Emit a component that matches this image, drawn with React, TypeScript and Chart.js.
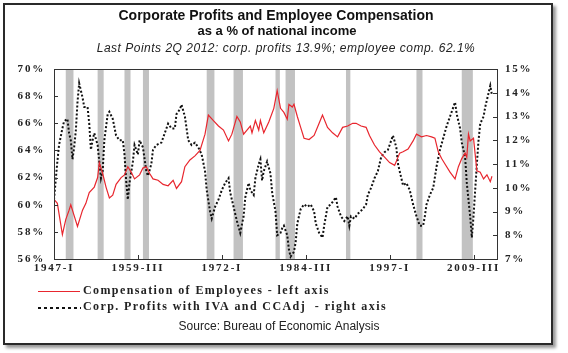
import React, { useEffect, useRef } from 'react';
import { Chart, registerables } from 'chart.js';

Chart.register(...registerables);

// Quarter index 0 = 1947-I
const tickQuarters = [0, 50, 100, 150, 200, 250];
const tickLabels = ['1947-I', '1959-III', '1972-I', '1984-III', '1997-I', '2009-III'];

const compQuarter = [
  0, 2, 5, 7, 9, 10, 12, 14, 17, 19,
  21, 24, 26, 27, 29, 31, 33, 35, 37, 40,
  42, 44, 46, 48, 51, 53, 55, 57, 59, 62,
  65, 68, 71, 73, 76, 78, 81, 84, 87, 90,
  92, 95, 98, 101, 104, 106, 109, 111, 113, 115,
  117, 118, 120, 122, 123, 125, 128, 131, 133, 135,
  137, 139, 140, 142, 143, 145, 147, 149, 152, 155,
  158, 160, 163, 166, 169, 172, 175, 178, 180, 183,
  186, 188, 191, 194, 197, 200, 203, 206, 208, 211,
  214, 216, 219, 222, 225, 227, 229, 231, 233, 236,
  239, 241, 243, 245, 246, 247, 248, 250, 252, 254,
  256, 258, 260, 261,
];
const compValue = [
  60.4, 60.1, 57.8, 58.9, 59.6, 60.0, 59.2, 58.4, 59.6, 60.1,
  60.9, 61.3, 62.0, 63.1, 62.3, 61.3, 60.5, 60.7, 61.5, 62.0,
  62.2, 62.8, 62.4, 61.9, 62.2, 62.7, 62.8, 62.3, 61.9, 61.8,
  61.5, 61.4, 61.8, 61.2, 61.7, 62.8, 63.3, 63.6, 64.0, 65.2,
  66.6, 66.2, 65.8, 65.5, 64.7, 65.2, 66.5, 66.1, 65.2, 65.5,
  65.8, 65.3, 66.2, 65.5, 66.2, 65.3, 66.1, 67.1, 68.4, 67.1,
  66.8, 66.3, 67.4, 67.2, 67.4, 66.5, 65.7, 64.9, 64.8, 65.1,
  66.0, 66.6, 65.7, 65.3, 65.0, 65.7, 65.8, 66.0, 66.0, 65.8,
  65.7, 65.1, 64.4, 63.9, 63.5, 63.1, 62.9, 63.8, 63.9, 64.1,
  64.7, 65.2, 65.0, 65.1, 65.0, 64.9, 63.9, 63.4, 63.0, 62.4,
  61.9, 62.8, 63.4, 63.8, 63.5, 65.2, 64.7, 64.9, 62.5, 62.4,
  61.9, 62.2, 61.7, 62.1,
];

const profitQuarter = [
  0, 2, 3, 5, 6, 8, 9, 10, 11, 12,
  13, 14, 15, 17, 18, 20, 21, 22, 23, 24,
  26, 27, 28, 29, 30, 32, 33, 35, 37, 39,
  41, 42, 43, 44, 45, 47, 48, 50, 51, 53,
  55, 56, 58, 59, 61, 64, 66, 68, 70, 72,
  73, 75, 76, 78, 80, 82, 84, 86, 88, 90,
  91, 93, 94, 96, 98, 100, 102, 104, 105, 107,
  109, 111, 113, 114, 116, 117, 119, 120, 122, 123,
  124, 125, 127, 129, 130, 132, 133, 135, 136, 137,
  139, 140, 141, 143, 144, 145, 147, 149, 151, 153,
  155, 156, 158, 160, 161, 163, 165, 167, 168, 169,
  171, 173, 175, 176, 177, 179, 181, 184, 186, 187,
  189, 191, 193, 195, 197, 199, 201, 202, 204, 205,
  207, 208, 210, 212, 214, 216, 218, 220, 221, 222,
  224, 226, 228, 230, 232, 234, 236, 238, 239, 240,
  242, 243, 245, 246, 248, 249, 250, 251, 252, 253,
  254, 256, 257, 258, 260, 261,
];
const profitValue = [
  9.5, 11.1, 11.8, 12.5, 12.8, 12.9, 12.3, 12.0, 11.2, 11.7,
  12.4, 13.6, 14.4, 13.8, 13.4, 13.4, 12.7, 11.6, 12.0, 12.3,
  11.8, 11.1, 10.4, 10.7, 12.0, 13.1, 13.2, 12.9, 12.2, 12.0,
  12.0, 11.4, 10.3, 9.5, 10.2, 11.1, 11.8, 11.4, 12.0, 11.7,
  10.7, 10.5, 11.0, 11.6, 11.8, 11.9, 12.3, 12.7, 12.5, 12.5,
  13.1, 13.3, 13.5, 13.0, 12.0, 11.8, 11.9, 11.7, 11.4, 10.7,
  9.9, 9.0, 8.7, 9.2, 9.5, 9.9, 10.2, 10.4, 9.8, 9.2,
  8.6, 8.1, 8.8, 9.6, 10.2, 9.9, 9.7, 10.4, 11.0, 11.2,
  10.3, 10.7, 11.1, 10.6, 9.8, 9.0, 8.0, 8.1, 8.3, 8.4,
  8.0, 7.4, 7.1, 7.3, 7.7, 8.5, 9.1, 9.3, 9.2, 9.3,
  9.0, 8.5, 8.1, 7.9, 8.4, 9.2, 9.3, 9.5, 9.6, 9.2,
  8.8, 8.6, 8.8, 8.4, 8.8, 8.7, 8.9, 9.1, 9.3, 9.7,
  10.0, 10.4, 10.7, 11.3, 11.5, 11.6, 12.0, 12.2, 11.7, 11.0,
  10.4, 10.1, 10.2, 9.9, 9.3, 8.8, 8.4, 8.4, 8.8, 9.3,
  9.7, 10.0, 10.9, 11.6, 12.1, 12.6, 13.0, 13.4, 13.6, 13.1,
  12.5, 11.9, 11.3, 10.2, 8.8, 7.9, 8.8, 9.9, 11.0, 12.0,
  12.7, 13.0, 13.4, 13.7, 14.3, 13.9,
];

// NBER recessions (quarter indices, peak to trough)
const recessionStart = [7, 26, 42, 53, 91, 107, 132, 138, 174, 216, 243];
const recessionEnd = [11, 29, 45, 56, 95, 112, 134, 143, 176, 219, 249];

const leftTicks = [56, 58, 60, 62, 64, 66, 68, 70];
const rightTicks = [7, 8, 9, 10, 11, 12, 13, 14, 15];

const TITLE_1 = 'Corporate Profits and Employee Compensation';
const TITLE_2 = 'as a % of national income';
const SUBTITLE = 'Last Points 2Q 2012: corp. profits 13.9%; employee comp. 62.1%';
const SOURCE = 'Source: Bureau of Economic Analysis';
const COMP_LABEL = 'Compensation of Employees - left axis';
const PROFIT_LABEL = 'Corp. Profits with IVA and CCAdj  - right axis';

const RED = '#e8262e';
const SERIF = '"Liberation Serif", "Times New Roman", serif';
const SANS = '"Liberation Sans", Arial, sans-serif';

const decorPlugin = {
  id: 'decor',
  beforeDraw(chart: any) {
    // wide, stretched-looking serif tick labels
    chart.ctx.letterSpacing = '1.8px';
  },
  beforeDatasetsDraw(chart: any) {
    const { ctx, chartArea: a, scales } = chart;
    const x = scales.x;
    ctx.save();
    ctx.fillStyle = '#c2c2c2';
    recessionStart.forEach((s, i) => {
      const x1 = x.getPixelForValue(s);
      const x2 = x.getPixelForValue(recessionEnd[i] + 0.6);
      ctx.fillRect(x1, a.top, x2 - x1, a.bottom - a.top);
    });
    ctx.restore();
  },
  afterDatasetsDraw(chart: any) {
    const { ctx, chartArea: a, scales } = chart;
    ctx.save();
    ctx.strokeStyle = '#333';
    ctx.lineWidth = 1;
    ctx.strokeRect(Math.round(a.left) + 0.5, Math.round(a.top) + 0.5, Math.round(a.right - a.left), Math.round(a.bottom - a.top));
    ctx.beginPath();
    leftTicks.slice(1, -1).forEach((v) => {
      const y = Math.round(scales.yL.getPixelForValue(v)) + 0.5;
      ctx.moveTo(a.left, y);
      ctx.lineTo(a.left + 4, y);
    });
    rightTicks.slice(1, -1).forEach((v) => {
      const y = Math.round(scales.yR.getPixelForValue(v)) + 0.5;
      ctx.moveTo(a.right - 4, y);
      ctx.lineTo(a.right, y);
    });
    tickQuarters.slice(1).forEach((v) => {
      const xx = Math.round(scales.x.getPixelForValue(v)) + 0.5;
      ctx.moveTo(xx, a.bottom);
      ctx.lineTo(xx, a.bottom - 4);
    });
    ctx.stroke();
    ctx.restore();
  },
  afterDraw(chart: any) {
    const { ctx } = chart;
    ctx.save();
    ctx.fillStyle = '#111';
    ctx.textAlign = 'center';
    ctx.textBaseline = 'middle';
    ctx.letterSpacing = '0px';
    ctx.font = `bold 14px ${SANS}`;
    ctx.fillText(TITLE_1, 276, 16);
    ctx.font = `bold 13px ${SANS}`;
    ctx.fillText(TITLE_2, 277, 31);
    ctx.font = `italic 12px ${SANS}`;
    ctx.fillStyle = '#222';
    ctx.letterSpacing = '0.5px';
    ctx.fillText(SUBTITLE, 286, 49);
    ctx.letterSpacing = '0px';
    ctx.font = `12px ${SANS}`;
    ctx.fillText(SOURCE, 279, 327);

    // legend
    ctx.textAlign = 'left';
    ctx.font = `bold 12px ${SERIF}`;
    ctx.letterSpacing = '1.4px';
    ctx.fillStyle = '#222';
    ctx.strokeStyle = RED;
    ctx.lineWidth = 1.2;
    ctx.beginPath();
    ctx.moveTo(38, 291.5);
    ctx.lineTo(80, 291.5);
    ctx.stroke();
    ctx.fillText(COMP_LABEL, 83, 291);

    ctx.strokeStyle = '#111';
    ctx.lineWidth = 2;
    ctx.setLineDash([3, 3]);
    ctx.beginPath();
    ctx.moveTo(38, 308);
    ctx.lineTo(81, 308);
    ctx.stroke();
    ctx.setLineDash([]);
    ctx.fillText(PROFIT_LABEL, 83, 307);
    ctx.restore();
  },
};

export default function App() {
  const canvasRef = useRef<HTMLCanvasElement | null>(null);

  useEffect(() => {
    const canvas = canvasRef.current;
    if (!canvas) return;
    const tickFont = { family: SERIF, size: 11, weight: 'bold' as const };
    const chart = new Chart(canvas, {
      type: 'line',
      data: {
        datasets: [
          {
            label: COMP_LABEL,
            data: compQuarter.map((q, i) => ({ x: q, y: compValue[i] })),
            borderColor: RED,
            borderWidth: 1.2,
            pointRadius: 0,
            yAxisID: 'yL',
            tension: 0,
            order: 1,
          },
          {
            label: PROFIT_LABEL,
            data: profitQuarter.map((q, i) => ({ x: q, y: profitValue[i] })),
            borderColor: '#111',
            borderWidth: 2,
            borderDash: [2, 2],
            pointRadius: 0,
            yAxisID: 'yR',
            tension: 0,
            order: 2,
          },
        ],
      },
      options: {
        animation: false,
        responsive: false,
        events: [],
        layout: { padding: { top: 69, left: 0, right: 0, bottom: 74 } },
        plugins: {
          legend: { display: false },
          tooltip: { enabled: false },
          title: { display: false },
        },
        scales: {
          x: {
            type: 'linear',
            min: 0,
            max: 264,
            grid: { display: false, drawTicks: false },
            border: { display: false },
            afterBuildTicks: (scale: any) => {
              scale.ticks = tickQuarters.map((v) => ({ value: v }));
            },
            afterFit: (scale: any) => {
              scale.height = 20;
            },
            ticks: {
              autoSkip: false,
              maxRotation: 0,
              padding: 3,
              color: '#222',
              font: tickFont,
              callback: (v: any) => {
                const i = tickQuarters.indexOf(Number(v));
                return i >= 0 ? tickLabels[i] : '';
              },
            },
          },
          yL: {
            type: 'linear',
            position: 'left',
            min: 56,
            max: 70,
            grid: { display: false, drawTicks: false },
            border: { display: false },
            afterBuildTicks: (scale: any) => {
              scale.ticks = leftTicks.map((v) => ({ value: v }));
            },
            afterFit: (scale: any) => {
              scale.width = 54;
            },
            ticks: {
              padding: 9,
              color: '#222',
              font: tickFont,
              callback: (v: any) => `${v}%`,
            },
          },
          yR: {
            type: 'linear',
            position: 'right',
            min: 7,
            max: 15,
            grid: { display: false, drawTicks: false },
            border: { display: false },
            afterBuildTicks: (scale: any) => {
              scale.ticks = rightTicks.map((v) => ({ value: v }));
            },
            afterFit: (scale: any) => {
              scale.width = 71;
            },
            ticks: {
              padding: 8,
              color: '#222',
              font: tickFont,
              callback: (v: any) => `${v}%`,
            },
          },
        },
      },
      plugins: [decorPlugin],
    });
    return () => chart.destroy();
  }, []);

  return (
    <div style={{ position: 'fixed', left: 0, top: 0, width: 568, height: 353, background: '#fff', overflow: 'hidden' }}>
      <div
        style={{
          position: 'absolute',
          left: 3,
          top: 3,
          width: 550,
          height: 342,
          boxSizing: 'border-box',
          border: '2px solid #2a2a2a',
          boxShadow: '3px 3px 3px #999',
          background: '#fff',
        }}
      />
      <canvas ref={canvasRef} width={568} height={353} style={{ position: 'absolute', left: 0, top: 0 }} />
    </div>
  );
}
